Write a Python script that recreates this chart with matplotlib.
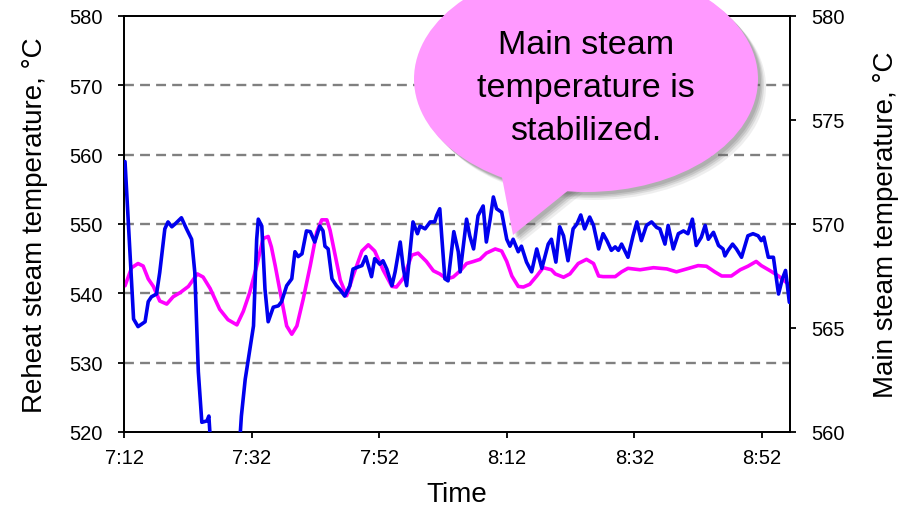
import matplotlib
matplotlib.use("Agg")
import matplotlib.pyplot as plt
from matplotlib.patches import Ellipse, Polygon

plt.rcParams['font.family'] = ['Liberation Sans', 'DejaVu Sans']

# ---- data (time in minutes after 7:12) ----
reheat_t = [0.16, 1.5, 2.2, 3.3, 3.8, 4.3, 5.1, 5.6, 6.4, 6.9, 7.5, 8.0, 9.0, 9.8, 10.6, 11.1,
            11.65, 12.2, 13.0, 13.3, 13.6, 15.0, 17.0, 18.1, 18.4, 19.0, 20.3, 20.8, 21.05, 21.6,
            22.1, 22.6, 23.4, 24.2, 24.7, 25.5, 26.3, 26.8, 27.3, 27.9, 28.6, 29.2, 29.9, 30.7,
            31.2, 31.5, 32.0, 32.6, 33.3, 33.9, 34.6, 35.4, 35.9, 36.7, 37.3, 37.9, 38.8, 39.3,
            40.1, 40.6, 41.2, 42.0, 42.5, 43.3, 43.8, 44.3, 45.3, 46.0, 46.4, 47.2, 48.0, 48.7,
            49.0, 49.5, 49.8, 50.3, 50.8, 51.7, 52.4, 52.7, 53.7, 54.2, 54.8, 55.5, 56.3, 56.8,
            57.4, 57.9, 58.4, 59.2, 60.0, 60.5, 61.0, 61.8, 62.3, 63.1, 63.9, 64.7, 65.5, 66.5,
            67.0, 67.7, 68.3, 68.9, 69.6, 70.4, 71.0, 71.6, 72.2, 73.0, 73.6, 74.4, 75.1, 75.7,
            76.4, 77.0, 77.5, 78.0, 79.0, 79.8, 80.4, 81.1, 81.9, 82.7, 83.5, 84.0, 84.8, 85.3,
            86.1, 86.9, 87.7, 88.4, 89.1, 89.7, 90.5, 91.1, 91.6, 92.4, 93.2, 93.9, 94.2, 94.7,
            95.4, 96.0, 96.8, 97.8, 98.6, 99.4, 99.9, 100.3, 101.0, 101.8, 102.6, 103.2, 103.7,
            104.3]
reheat_temp = [559.0, 536.3, 535.2, 535.9, 538.8, 539.5, 539.9, 543.0, 549.3, 550.3, 549.6, 550.0,
               550.9, 549.3, 547.8, 543.0, 528.7, 521.4, 521.6, 522.3, 518.0, 512.0, 512.0, 518.0,
               522.3, 527.6, 535.3, 547.8, 550.7, 549.7, 540.6, 535.9, 538.0, 538.2, 538.8, 541.1,
               542.1, 546.0, 545.3, 545.7, 549.0, 548.9, 547.4, 549.7, 549.0, 546.8, 546.4, 542.1,
               541.1, 540.5, 539.6, 541.1, 543.5, 543.8, 544.0, 545.3, 542.4, 545.0, 544.2, 544.7,
               543.5, 541.1, 543.1, 547.4, 543.5, 541.1, 550.3, 548.6, 549.7, 549.3, 550.3, 550.3,
               551.2, 552.2, 548.3, 542.1, 541.8, 548.9, 546.0, 543.1, 550.7, 548.3, 546.4, 551.2,
               552.6, 547.4, 550.7, 553.9, 552.2, 551.7, 547.8, 546.8, 547.8, 546.0, 546.8, 544.5,
               543.1, 546.4, 543.6, 547.1, 547.8, 544.5, 549.6, 548.3, 544.7, 549.3, 550.0, 551.3,
               549.3, 551.0, 549.8, 546.4, 548.6, 547.6, 546.2, 546.7, 546.2, 547.1, 545.2, 548.3,
               550.3, 547.6, 549.8, 550.3, 549.5, 549.3, 547.1, 549.8, 546.4, 548.6, 549.0, 548.6,
               550.7, 546.9, 548.1, 549.8, 547.8, 548.8, 546.9, 546.4, 545.4, 546.2, 547.1, 546.4,
               545.2, 548.3, 548.6, 548.3, 547.6, 548.1, 545.2, 545.2, 539.9, 542.1, 543.3, 538.7]

main_t = [0.16, 1.2, 2.2, 3.0, 3.8, 4.6, 5.6, 6.7, 7.7, 8.8, 10.1, 11.5, 12.4, 13.5, 15.0, 16.3,
          17.7, 18.7, 19.7, 20.8, 21.8, 22.6, 23.1, 23.7, 24.5, 25.5, 26.3, 27.1, 28.1, 29.2,
          30.2, 31.0, 31.8, 32.3, 33.1, 33.9, 34.9, 35.9, 37.3, 38.3, 39.3, 40.6, 42.0, 42.7,
          43.8, 45.1, 46.1, 47.4, 48.5, 49.5, 50.6, 51.6, 52.7, 53.7, 54.8, 55.8, 56.8, 58.2,
          59.2, 60.0, 60.8, 61.8, 62.6, 63.6, 64.7, 65.7, 67.0, 67.6, 68.9, 69.9, 71.2, 72.5,
          73.6, 74.4, 75.1, 77.0, 78.0, 79.0, 80.9, 83.0, 85.1, 86.6, 88.2, 90.0, 91.3, 92.6,
          93.7, 95.2, 96.6, 97.8, 99.1, 99.9, 101.3, 102.6, 104.3]
main_temp = [567.03, 567.9, 568.1, 567.98, 567.36, 567.0, 566.3, 566.15, 566.5, 566.7, 567.0,
             567.6, 567.45, 566.9, 565.9, 565.4, 565.15, 565.8, 566.7, 567.98, 569.3, 569.4,
             568.9, 568.0, 566.7, 565.1, 564.7, 565.1, 566.4, 568.0, 569.6, 570.2, 570.2, 569.7,
             568.5, 567.3, 566.55, 567.5, 568.7, 569.0, 568.7, 567.8, 567.0, 566.97, 567.4, 568.5,
             568.6, 568.2, 567.75, 567.6, 567.36, 567.45, 567.75, 568.1, 568.2, 568.3, 568.6,
             568.8, 568.7, 568.2, 567.5, 567.0, 566.97, 567.1, 567.5, 567.9, 567.8, 567.6, 567.44,
             567.6, 568.1, 568.3, 568.1, 567.5, 567.47, 567.47, 567.7, 567.87, 567.8, 567.9,
             567.84, 567.7, 567.84, 568.0, 567.97, 567.7, 567.5, 567.5, 567.8, 567.97, 568.2,
             568.0, 567.75, 567.5, 567.07]

x_ticks = [0, 20, 40, 60, 80, 100]
x_ticklabels = ['7:12', '7:32', '7:52', '8:12', '8:32', '8:52']
left_ticks = [520, 530, 540, 550, 560, 570, 580]
right_ticks = [560, 565, 570, 575, 580]
callout_text = "Main steam\ntemperature is\nstabilized."

# ---- figure ----
W, H = 908, 510
fig = plt.figure(figsize=(W / 100, H / 100), dpi=100)
ax = fig.add_axes([124 / W, (H - 433) / H, (790 - 124) / W, (433 - 17) / H])
ax2 = ax.twinx()

ax.set_xlim(0, 104.4)
ax.set_ylim(520, 580)
ax2.set_ylim(560, 580)

ax.set_yticks(left_ticks)
ax2.set_yticks(right_ticks)
ax.set_xticks(x_ticks)
ax.set_xticklabels(x_ticklabels)

for a in (ax, ax2):
    for s in a.spines.values():
        s.set_linewidth(1.3)
        s.set_color('black')
    a.tick_params(labelsize=14.5, width=1.3, length=4.5, direction='out', pad=11, colors='black')
ax.tick_params(axis='x', pad=7)

for v in left_ticks[1:-1]:
    ax.axhline(v, color='#808080', lw=1.7, dashes=(4.2, 2.6), zorder=0.5)

ax2.plot(main_t, main_temp, color='#ff00ff', lw=2.6, solid_capstyle='round', zorder=2)
ax2.plot(reheat_t, reheat_temp, color='#0000ee', lw=2.6, transform=ax.transData,
         solid_capstyle='round', zorder=3)
ax2.set_ylim(560, 580)
ax.set_xlim(0, 104.4)

ax.set_ylabel('Reheat steam temperature, °C', fontsize=20, labelpad=15)
ax2.set_ylabel('Main steam temperature, °C', fontsize=20, labelpad=20)
ax.set_xlabel('Time', fontsize=20, labelpad=10)

# ---- callout bubble (figure pixel coordinates, y from top) ----
def fx(px):
    return px / W

def fy(py):
    return (H - py) / H

cx, cy, rw, rh = 586, 80, 344, 226
tail = [(500, 168), (513, 236), (575, 186)]

for k, (off, al) in enumerate([(8, 0.10), (6, 0.14), (4.5, 0.18), (3, 0.2)]):
    fig.patches.append(Ellipse((fx(cx + off), fy(cy + off)), rw / W, rh / H,
                               transform=fig.transFigure, facecolor='#606060', edgecolor='none',
                               alpha=al, zorder=4))
    fig.patches.append(Polygon([(fx(p[0] + off), fy(p[1] + off)) for p in tail], closed=True,
                               transform=fig.transFigure, facecolor='#606060', edgecolor='none',
                               alpha=al, zorder=4))

fig.patches.append(Ellipse((fx(cx), fy(cy)), rw / W, rh / H, transform=fig.transFigure,
                           facecolor='#ff99ff', edgecolor='none', zorder=5))
fig.patches.append(Polygon([(fx(p[0]), fy(p[1])) for p in tail], closed=True,
                           transform=fig.transFigure, facecolor='#ff99ff', edgecolor='none',
                           zorder=5))
fig.text(fx(586), fy(88), callout_text, ha='center', va='center', fontsize=24.5,
         linespacing=1.5, color='black', zorder=6)

fig.savefig('out.png', dpi=100)
